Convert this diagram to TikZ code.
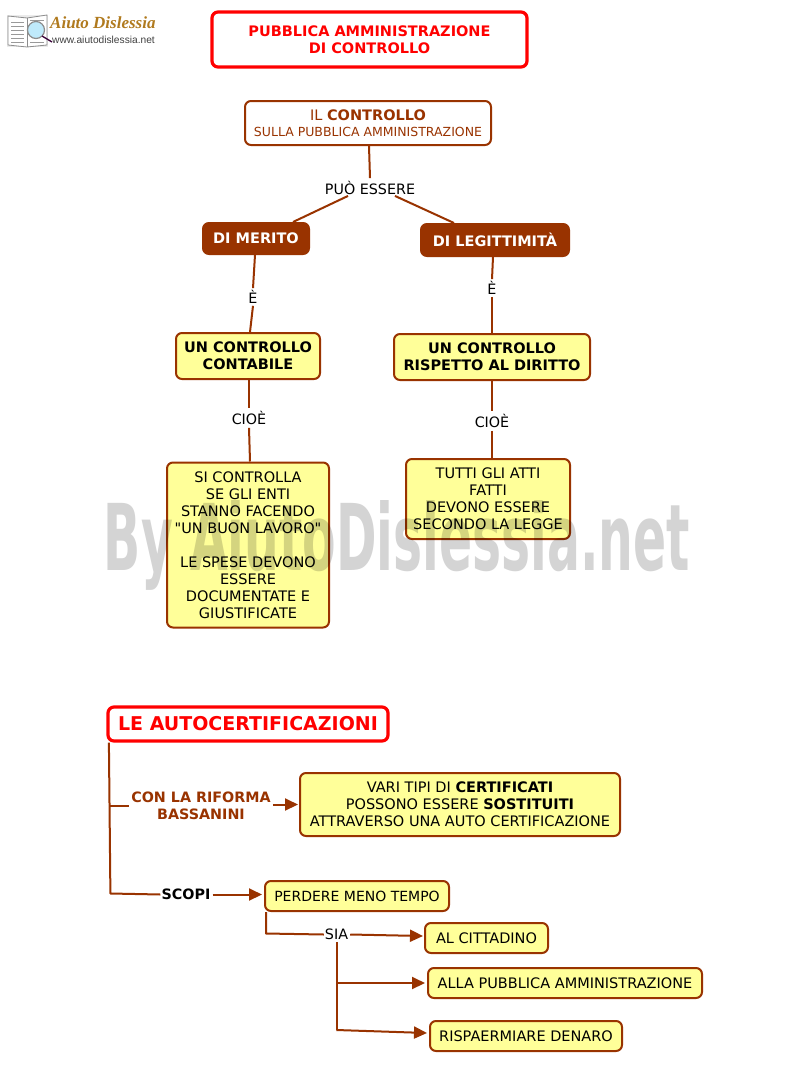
\documentclass[tikz,border=0pt]{standalone}
\usepackage{fontspec}
\setmainfont{DejaVu Sans}
\newfontfamily\plainq{DejaVu Sans}
\newfontfamily\urlfont{Liberation Sans}
\newfontfamily\logofont{Liberation Serif}
\usetikzlibrary{arrows.meta,calc}
\definecolor{brn}{HTML}{993300}
\definecolor{yel}{HTML}{FFFF99}
\definecolor{wm}{HTML}{D4D4D4}
\definecolor{gold}{HTML}{B07A1E}
\tikzset{
  x=1pt,y=-1pt,
  wh/.style 2 args={minimum width=#1pt,minimum height=#2pt},
  bx/.style={draw=brn,line width=2pt,rounded corners=6pt,align=center,inner sep=0pt,font=\fontsize{14.5}{17}\selectfont},
  yb/.style={bx,fill=yel},
  redb/.style={draw=red,fill=white,line width=3.2pt,rounded corners=6pt,align=center,inner sep=0pt,text=red,font=\fontsize{14.5}{17}\selectfont\bfseries},
  dark/.style={bx,fill=brn,text=white,font=\fontsize{14.5}{17}\selectfont\bfseries},
  lab/.style={inner sep=0pt,align=center,font=\fontsize{14.3}{17}\selectfont},
  con/.style={draw=brn,line width=2pt,line join=round},
  arr/.style={con,-{Triangle[length=13pt,width=12pt]}}
}
\begin{document}
\begin{tikzpicture}
\useasboundingbox (0,0) rectangle (792,1092);
\fill[white] (0,0) rectangle (792,1092);
% logo
\fill[black!8] (7,15) rectangle (48,47);
\draw[black!45,line width=.8pt,fill=white] (8,16) -- (27,18) -- (47,15) -- (47,45) -- (27,47) -- (8,45) -- cycle;
\draw[black!45,line width=.8pt] (27,18) -- (27,47);
\foreach \yy in {22,26,30,34,38,42}{\draw[black!40,line width=1pt] (11,\yy) -- (24,\yy);}
\foreach \yy in {20,42}{\draw[black!40,line width=1pt] (30,\yy) -- (44,\yy);}
\draw[black!45,line width=1.2pt,fill=cyan!25] (36,30) circle (8.5pt);
\draw[black!55!violet,line width=1.3pt] (42,36) -- (52,42);
\node[anchor=west,inner sep=0pt,text=gold] (logotitle) at (50,23) {\logofont\bfseries\itshape\fontsize{17}{17}\selectfont Aiuto Dislessia};
\node[anchor=west,inner sep=0pt,text=black!75] (logourl) at (52,40) {\urlfont\fontsize{10.2}{11}\selectfont www.aiutodislessia.net};
% boxes
\node[redb,wh={315}{55}] (titolo) at (369.5,39.5) {PUBBLICA AMMINISTRAZIONE\\DI CONTROLLO};
\node[bx,fill=white,text=brn,wh={246}{44}] (ctrl) at (368,123) {\raisebox{-.8pt}{IL \textbf{CONTROLLO}}\\{\fontsize{12.5}{15}\selectfont SULLA PUBBLICA AMMINISTRAZIONE}};
\node[lab] (puo) at (370,188) {PUÒ ESSERE};
\node[dark,wh={106}{31}] (merito) at (256,238.5) {\raisebox{-2pt}{DI MERITO}};
\node[dark,wh={148}{32}] (legit) at (495,240) {DI LEGITTIMITÀ};
\node[lab,fill=white] (e1) at (253,297) {È};
\node[lab,fill=white] (e2) at (492,288) {È};
\node[yb,wh={144}{46},font=\fontsize{14.5}{17}\selectfont\bfseries] (contab) at (248,356) {UN CONTROLLO\\CONTABILE};
\node[yb,wh={196}{46},font=\fontsize{14.5}{17}\selectfont\bfseries] (dirit) at (492,357) {UN CONTROLLO\\RISPETTO AL DIRITTO};
\node[lab,fill=white] (c1) at (249,418) {CIOÈ};
\node[lab,fill=white] (c2) at (492,421) {CIOÈ};
\node[yb,wh={162}{165}] (spese) at (248,545) {SI CONTROLLA\\SE GLI ENTI\\STANNO FACENDO\\{\plainq "UN BUON LAVORO"}\\[17pt]LE SPESE DEVONO\\ESSERE\\DOCUMENTATE E\\GIUSTIFICATE};
\node[yb,wh={164}{80}] (atti) at (488,499) {TUTTI GLI ATTI\\FATTI\\DEVONO ESSERE\\SECONDO LA LEGGE};
\node[redb,wh={280}{34},font=\fontsize{19}{22}\selectfont\bfseries] (auto) at (248,724) {\raisebox{-1pt}{LE AUTOCERTIFICAZIONI}};
\node[lab,text=brn,font=\fontsize{14.3}{17}\selectfont\bfseries] (rif) at (201,806) {CON LA RIFORMA\\BASSANINI};
\node[yb,wh={320}{63}] (vari) at (460,804.5) {VARI TIPI DI \textbf{CERTIFICATI}\\POSSONO ESSERE \textbf{SOSTITUITI}\\ATTRAVERSO UNA AUTO CERTIFICAZIONE};
\node[lab,font=\fontsize{14.3}{17}\selectfont\bfseries] (scopi) at (186,894.5) {SCOPI};
\node[yb,wh={184}{30},font=\fontsize{14}{17}\selectfont] (perdere) at (357,896) {PERDERE MENO TEMPO};
\node[lab] (sia) at (336.5,934.5) {SIA};
\node[yb,wh={123}{30}] (citt) at (486.5,938) {AL CITTADINO};
\node[yb,wh={274}{30}] (pa) at (565,983) {ALLA PUBBLICA AMMINISTRAZIONE};
\node[yb,wh={192}{30}] (risp) at (526,1036) {RISPAERMIARE DENARO};
% connectors
\draw[con] ([xshift=1pt]ctrl.south) -- ([yshift=3pt]puo.north);
\draw[con] ([xshift=-22pt,yshift=-1pt]puo.south) -- ([xshift=37pt]merito.north);
\draw[con] ([xshift=25pt,yshift=-1pt]puo.south) -- ([xshift=-41pt]legit.north);
\draw[con] ([xshift=-1pt]merito.south) -- ([yshift=2pt]e1.north);
\draw[con] ([yshift=-2pt]e1.south) -- ([xshift=2pt]contab.north);
\draw[con] ([xshift=-2pt]legit.south) -- ([yshift=2pt]e2.north);
\draw[con] ([yshift=-2pt]e2.south) -- (dirit.north);
\draw[con] ([xshift=1pt]contab.south) -- ([yshift=3pt]c1.north);
\draw[con] ([yshift=-3pt]c1.south) -- ([xshift=2pt]spese.north);
\draw[con] (dirit.south) -- ([yshift=3pt]c2.north);
\draw[con] ([yshift=-3pt]c2.south) -- ([xshift=4pt]atti.north);
\draw[con] ([xshift=2.5pt]auto.south west) -- ([xshift=4pt,yshift=1pt]auto.south west |- scopi.west) -- ([xshift=-1pt]scopi.west);
\coordinate (rifj) at ([xshift=3pt]auto.south west |- rif);
\draw[con] (rifj) -- ([xshift=-2pt]rif.west);
\draw[arr] ([xshift=2pt]rif.east |- vari.west) -- ([xshift=-1pt]vari.west);
\draw[arr] ([xshift=2pt]scopi.east) -- ([xshift=-2pt,yshift=1.5pt]perdere.west);
\draw[con] ([xshift=2pt]perdere.south west) -- ([xshift=2pt,yshift=1pt]perdere.south west |- sia.west) -- ([xshift=-1pt]sia.west);
\draw[arr] ([xshift=2pt]sia.east) -- ([xshift=-1pt,yshift=2pt]citt.west);
\coordinate (siaj) at ([yshift=-2pt]sia.south);
\draw[con] (siaj) -- ([yshift=6pt]siaj |- risp.west);
\draw[arr] (siaj |- pa.west) -- ([xshift=-2pt]pa.west);
\draw[arr] ([yshift=6pt]siaj |- risp.west) -- ([xshift=-2pt,yshift=3pt]risp.west);
% watermark
\begin{scope}[blend mode=multiply]
\node[inner sep=0pt,text=wm,anchor=base] (wmk) at (397,570) {\resizebox{586pt}{70pt}{\bfseries\fontsize{92}{92}\selectfont By AiutoDislessia.net}};
\end{scope}
\end{tikzpicture}
\end{document}
